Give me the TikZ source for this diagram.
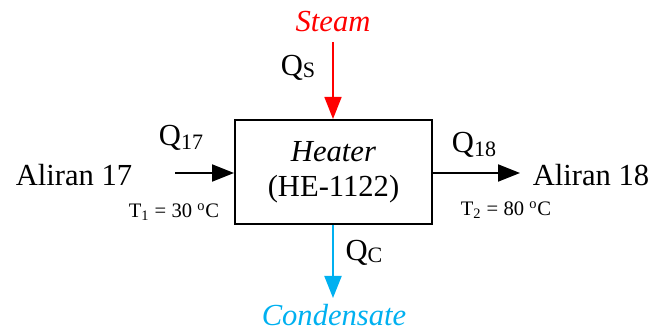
\documentclass[tikz,border=0pt]{standalone}
\usepackage{fontspec}
\setmainfont{Liberation Serif}
\usetikzlibrary{arrows.meta}
\definecolor{steamred}{RGB}{255,0,0}
\definecolor{condblue}{RGB}{0,176,240}

\begin{document}
\begin{tikzpicture}[x=0.5pt, y=-0.5pt,
        unit/.style={draw, line width=1pt, minimum width=98.5pt, minimum height=52pt, align=center, font=\fontsize{15.3}{17.5}\selectfont},
        stream/.style={font=\fontsize{15.3}{17.5}\selectfont, inner sep=0pt},
        small/.style={font=\fontsize{10.3}{12}\selectfont, inner sep=0pt},
        flow/.style={-{Triangle[length=11pt, width=8.5pt]}, line width=1pt},
    ]
    \useasboundingbox (0,0) rectangle (660,330);

    % Heater
    \node[unit] (HE) at (333.5,172) {\textit{Heater}\\(HE-1122)};

    % Feed and product streams
    \node[stream] (A17) at (74,175) {Aliran 17};
    \node[stream] (A18) at (591,175) {Aliran 18};
    \coordinate (in17) at (175,173);
    \coordinate (out18) at (520,173);
    \draw[flow] (in17) -- (HE.west |- in17);
    \draw[flow] (HE.east |- out18) -- (out18);
    \node[stream] (Q17) at (181,138) {Q{\fontsize{11}{12}\selectfont\raisebox{-2pt}{17}}};
    \node[stream] (Q18) at (474,145) {Q{\fontsize{11}{12}\selectfont\raisebox{-2pt}{18}}};
    \node[small] (T1) at (174,212) {T\textsubscript{1} = 30 \textsuperscript{o}C};
    \node[small] (T2) at (506,210) {T\textsubscript{2} = 80 \textsuperscript{o}C};

    % Steam in, condensate out
    \node[stream, text=steamred] (S) at (333,22) {\textit{Steam}};
    \coordinate (sin) at (333,42);
    \draw[flow, steamred, line width=0.8pt] (sin) -- (HE.north -| sin);
    \node[stream] (QS) at (298,68) {Q{\fontsize{11}{12}\selectfont\raisebox{-1pt}{S}}};

    \coordinate (cout) at (333,298);
    \draw[flow, condblue] (HE.south -| cout) -- (cout);
    \node[stream] (QC) at (364,253) {Q{\fontsize{11}{12}\selectfont\raisebox{-1pt}{C}}};
    \node[stream, text=condblue] (C) at (334,315) {\textit{Condensate}};
\end{tikzpicture}
\end{document}
